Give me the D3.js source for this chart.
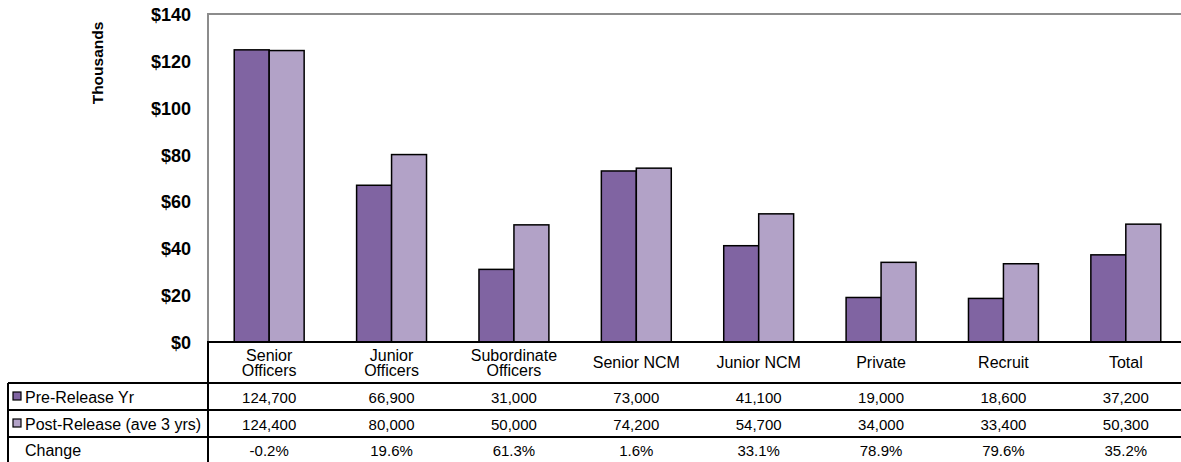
<!DOCTYPE html>
<html><head><meta charset="utf-8">
<script src="https://cdn.jsdelivr.net/npm/d3@7"></script>
<style>body{margin:0;background:#fff}svg{display:block;font-family:"Liberation Sans",Arial,sans-serif}</style>
</head><body><svg id="c" width="1181" height="462"></svg>
<script>
const categories = [["Senior","Officers"],["Junior","Officers"],["Subordinate","Officers"],["Senior NCM"],["Junior NCM"],["Private"],["Recruit"],["Total"]];
const seriesNames = ["Pre-Release Yr","Post-Release (ave 3 yrs)"];
const preRelease = [124700,66900,31000,73000,41100,19000,18600,37200];
const postRelease = [124400,80000,50000,74200,54700,34000,33400,50300];
const changeLabels = ["-0.2%","19.6%","61.3%","1.6%","33.1%","78.9%","79.6%","35.2%"];
const yTicks = [0,20,40,60,80,100,120,140];
const colors = ["#8064a2","#b2a2c7"];

const svg = d3.select("#c");
const L = 208, R = 1187, T = 14, B = 342;
const x = d3.scaleBand().domain(d3.range(categories.length)).range([L,R]).paddingInner(0).paddingOuter(0);
const gap = 1.5; // Excel gap width 150%
const barW = x.bandwidth()/(2+gap);
const y = d3.scaleLinear().domain([0,140]).range([B,T]);

// plot border (grey)
svg.append("line").attr("x1",L).attr("x2",L).attr("y1",T-1).attr("y2",B).attr("stroke","#8c8c8c").attr("stroke-width",2);
svg.append("line").attr("x1",L).attr("x2",1181).attr("y1",T).attr("y2",T).attr("stroke","#8c8c8c").attr("stroke-width",2);

// y axis labels
const yAxis = d3.axisLeft(y).tickValues(yTicks).tickSize(0).tickPadding(0).tickFormat(d=>"$"+d);
const ga = svg.append("g").attr("transform",`translate(191,0)`).call(yAxis);
ga.select(".domain").remove();
ga.selectAll("text").attr("font-size",18).attr("font-weight","bold").attr("fill","#000").attr("font-family","Liberation Sans, Arial, sans-serif").attr("dy","0.36em");

svg.append("text").attr("transform","translate(103,63) rotate(-90)").attr("text-anchor","middle")
  .attr("font-size",15.5).attr("font-weight","bold").text("Thousands");

// bars
const series = [preRelease, postRelease];
series.forEach((vals,si)=>{
  svg.append("g").selectAll("rect").data(vals).join("rect")
    .attr("x",(d,i)=>x(i)+barW*gap/2+si*barW)
    .attr("width",barW)
    .attr("y",d=>y(d/1000))
    .attr("height",d=>B-y(d/1000))
    .attr("fill",colors[si]).attr("stroke","#000").attr("stroke-width",1.5);
});

// table lines
const lines = svg.append("g").attr("stroke","#000").attr("stroke-width",2);
lines.append("line").attr("x1",L-1).attr("x2",1181).attr("y1",B).attr("y2",B);
[383,410,437].forEach(yy=>lines.append("line").attr("x1",8).attr("x2",1181).attr("y1",yy).attr("y2",yy));
lines.append("line").attr("x1",L).attr("x2",L).attr("y1",B).attr("y2",462);
lines.append("line").attr("x1",8).attr("x2",8).attr("y1",383).attr("y2",462);

// category headers
const hdr = svg.append("g").attr("font-size",16).attr("text-anchor","middle");
categories.forEach((c,i)=>{
  const cx = x(i)+x.bandwidth()/2;
  if(c.length===2){
    hdr.append("text").attr("x",cx).attr("y",361).text(c[0]);
    hdr.append("text").attr("x",cx).attr("y",376).text(c[1]);
  } else {
    hdr.append("text").attr("x",cx).attr("y",368).text(c[0]);
  }
});

// rows
const fmt = d3.format(",");
const rows = [preRelease.map(fmt), postRelease.map(fmt), changeLabels];
const rowY = [403,430,456];
const rowNames = [seriesNames[0],seriesNames[1],"Change"];
rows.forEach((r,ri)=>{
  const g = svg.append("g");
  r.forEach((t,i)=>g.append("text").attr("x",x(i)+x.bandwidth()/2).attr("y",rowY[ri]).attr("text-anchor","middle").attr("font-size",15).text(t));
  g.append("text").attr("x",25).attr("y",rowY[ri]).attr("font-size",16).text(rowNames[ri]);
  if(ri<2){
    g.append("rect").attr("x",13).attr("y",rowY[ri]-11).attr("width",8).attr("height",8)
      .attr("fill",colors[ri]).attr("stroke","#000").attr("stroke-width",1.2);
  }
});
</script></body></html>
